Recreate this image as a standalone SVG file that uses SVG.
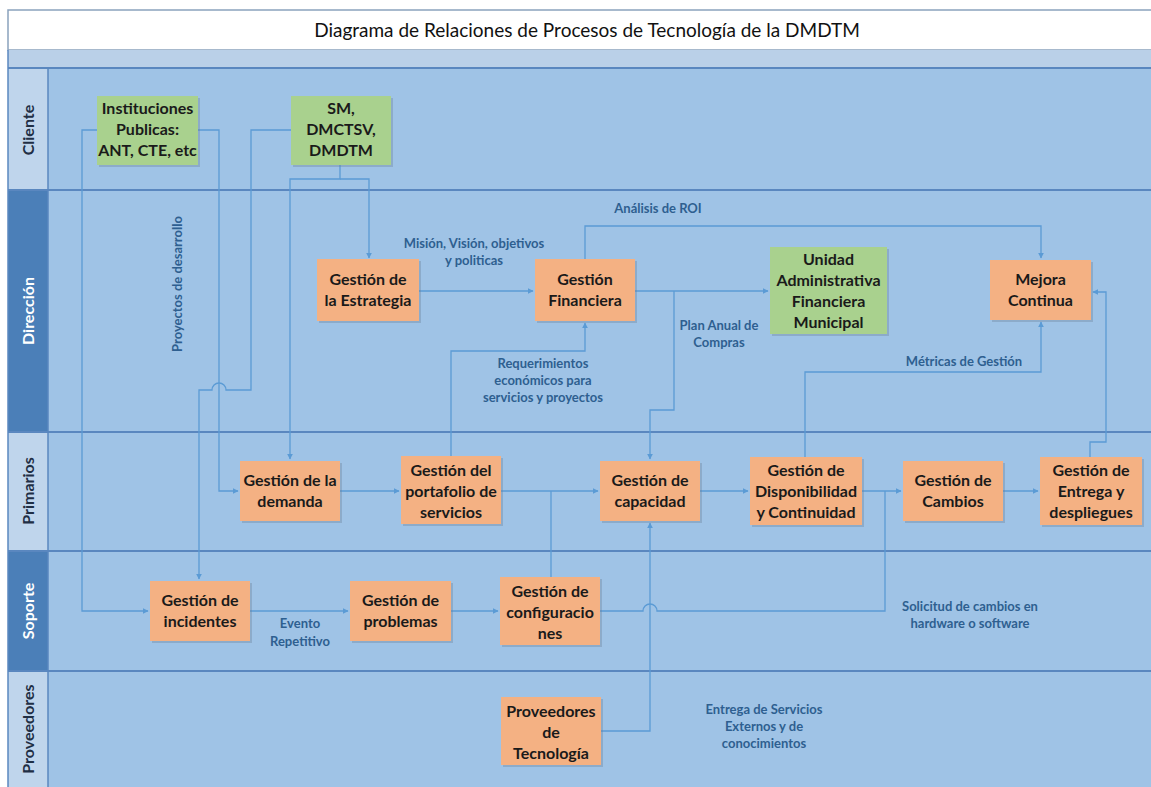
<svg xmlns="http://www.w3.org/2000/svg" width="1151" height="787" viewBox="0 0 1151 787">
  <defs>
    <style>
      .lane{fill:#9fc3e6}
      .sep{stroke:#5a87bf;stroke-width:2}
      .hdl{fill:#bfd5ec}
      .hdd{fill:#4b7fb8}
      .lt{font-family:Lato,"Liberation Sans",sans-serif;font-weight:bold;font-size:16px;text-anchor:middle}
      .box-o{fill:#f4b183}
      .box-g{fill:#a9d18e}
      .shadow{fill:#6b7f96;opacity:0.35}
      .nt{font-family:Lato,"Liberation Sans",sans-serif;font-weight:bold;font-size:16px;fill:#1a1a1a;text-anchor:middle}
      .conn{fill:none;stroke:#5b9bd5;stroke-width:1.3}
      .cl{font-family:Lato,"Liberation Sans",sans-serif;font-weight:bold;font-size:13px;fill:#2e5f90;text-anchor:middle}
    </style>
    <marker id="arr" viewBox="0 0 10 10" refX="9" refY="5" markerWidth="6" markerHeight="6" markerUnits="userSpaceOnUse" orient="auto">
      <path d="M0,0 L10,5 L0,10 z" fill="#5b9bd5"/>
    </marker>
  </defs>

  <!-- background -->
  <rect x="0" y="0" width="1151" height="787" fill="#ffffff"/>

  <!-- title -->
  <rect x="8" y="10" width="1150" height="40" fill="#ffffff" stroke="#8aa2bd" stroke-width="1.5"/>
  <text x="587" y="37" font-family="Lato,'Liberation Sans',sans-serif" font-size="19" text-anchor="middle" fill="#111">Diagrama de Relaciones de Procesos de Tecnología de la DMDTM</text>

  <!-- header band -->
  <rect x="8" y="50" width="1150" height="18" fill="#bad0e8"/>

  <!-- lanes -->
  <g id="lanes">
    <rect class="lane" x="8" y="68" width="1150" height="719"/>
    <rect class="hdl" x="8" y="68" width="40" height="122"/>
    <rect class="hdd" x="8" y="190" width="40" height="242"/>
    <rect class="hdl" x="8" y="432" width="40" height="119"/>
    <rect class="hdd" x="8" y="551" width="40" height="120"/>
    <rect class="hdl" x="8" y="671" width="40" height="116"/>
    <line class="sep" x1="8" y1="68" x2="1151" y2="68"/>
    <line class="sep" x1="8" y1="190" x2="1151" y2="190"/>
    <line class="sep" x1="8" y1="432" x2="1151" y2="432"/>
    <line class="sep" x1="8" y1="551" x2="1151" y2="551"/>
    <line class="sep" x1="8" y1="671" x2="1151" y2="671"/>
    <line x1="48" y1="68" x2="48" y2="787" stroke="#5a87bf" stroke-width="1.5"/>
    <line x1="8" y1="50" x2="8" y2="787" stroke="#5a87bf" stroke-width="1.5"/>
    <text class="lt" fill="#1f2f45" transform="translate(34,130) rotate(-90)">Cliente</text>
    <text class="lt" fill="#ffffff" transform="translate(34,311) rotate(-90)">Dirección</text>
    <text class="lt" fill="#1f2f45" transform="translate(34,491) rotate(-90)">Primarios</text>
    <text class="lt" fill="#ffffff" transform="translate(34,611) rotate(-90)">Soporte</text>
    <text class="lt" fill="#1f2f45" transform="translate(34,729) rotate(-90)">Proveedores</text>
  </g>

  <!-- connectors -->
  <g id="connectors">
    <path class="conn" d="M97,130 L82,130 L82,611 L148,611" marker-end="url(#arr)"/>
    <path class="conn" d="M198,130 L219,130 L219,491 L238,491" marker-end="url(#arr)"/>
    <path class="conn" d="M291,130 L251,130 L251,390 L226,390 A7,7 0 0 0 212,390 L199,390 L199,579" marker-end="url(#arr)"/>
    <path class="conn" d="M340,165 L340,179 L290,179 L290,459" marker-end="url(#arr)"/>
    <path class="conn" d="M340,179 L369,179 L369,258" marker-end="url(#arr)"/>
    <path class="conn" d="M419,291 L533,291" marker-end="url(#arr)"/>
    <path class="conn" d="M635,291 L768,291" marker-end="url(#arr)"/>
    <path class="conn" d="M674,291 L674,410 L650,410 L650,459" marker-end="url(#arr)"/>
    <path class="conn" d="M585,259 L585,226 L1041,226 L1041,258" marker-end="url(#arr)"/>
    <path class="conn" d="M451,456 L451,351 L585,351 L585,323" marker-end="url(#arr)"/>
    <path class="conn" d="M805,457 L805,372 L1041,372 L1041,322" marker-end="url(#arr)"/>
    <path class="conn" d="M1090,457 L1090,442 L1106,442 L1106,292 L1093,292" marker-end="url(#arr)"/>
    <path class="conn" d="M340,491 L399,491" marker-end="url(#arr)"/>
    <path class="conn" d="M501,491 L598,491" marker-end="url(#arr)"/>
    <path class="conn" d="M551,491 L551,577"/>
    <path class="conn" d="M700,491 L748,491" marker-end="url(#arr)"/>
    <path class="conn" d="M862,491 L901,491" marker-end="url(#arr)"/>
    <path class="conn" d="M600,611 L643,611 A7,7 0 0 1 657,611 L885,611 L885,491"/>
    <path class="conn" d="M1003,491 L1038,491" marker-end="url(#arr)"/>
    <path class="conn" d="M250,611 L348,611" marker-end="url(#arr)"/>
    <path class="conn" d="M451,611 L498,611" marker-end="url(#arr)"/>
    <path class="conn" d="M600,731 L650,731 L650,523" marker-end="url(#arr)"/>
  </g>

  <!-- connector labels -->
  <g id="connector-labels">
    <text class="cl" transform="translate(182,284) rotate(-90)">Proyectos de desarrollo</text>
    <text class="cl" x="474" y="248">Misión, Visión, objetivos</text>
    <text class="cl" x="474" y="265">y politicas</text>
    <text class="cl" x="658" y="213">Análisis de ROI</text>
    <text class="cl" x="719" y="330">Plan Anual de</text>
    <text class="cl" x="719" y="347">Compras</text>
    <text class="cl" x="543" y="368">Requerimientos</text>
    <text class="cl" x="543" y="385">económicos para</text>
    <text class="cl" x="543" y="402">servicios y proyectos</text>
    <text class="cl" x="964" y="366">Métricas de Gestión</text>
    <text class="cl" x="300" y="628">Evento</text>
    <text class="cl" x="300" y="646">Repetitivo</text>
    <text class="cl" x="970" y="611">Solicitud de cambios en</text>
    <text class="cl" x="970" y="628">hardware o software</text>
    <text class="cl" x="764" y="714">Entrega de Servicios</text>
    <text class="cl" x="764" y="731">Externos y  de</text>
    <text class="cl" x="764" y="748">conocimientos</text>
  </g>

  <!-- nodes -->
  <g id="instituciones">
    <rect class="shadow" x="99" y="98" width="101" height="69"/>
    <rect class="box-g" x="97" y="96" width="101" height="69"/>
    <text class="nt" x="147.5" y="114">Instituciones</text>
    <text class="nt" x="147.5" y="135">Publicas:</text>
    <text class="nt" x="147.5" y="156">ANT, CTE, etc</text>
  </g>
  <g id="sm">
    <rect class="shadow" x="293" y="98" width="100" height="69"/>
    <rect class="box-g" x="291" y="96" width="100" height="69"/>
    <text class="nt" x="341" y="114">SM,</text>
    <text class="nt" x="341" y="135">DMCTSV,</text>
    <text class="nt" x="341" y="156">DMDTM</text>
  </g>
  <g id="estrategia">
    <rect class="shadow" x="319" y="261" width="102" height="62"/>
    <rect class="box-o" x="317" y="259" width="102" height="62"/>
    <text class="nt" x="368" y="285">Gestión  de</text>
    <text class="nt" x="368" y="306">la Estrategia</text>
  </g>
  <g id="financiera">
    <rect class="shadow" x="537" y="261" width="100" height="62"/>
    <rect class="box-o" x="535" y="259" width="100" height="62"/>
    <text class="nt" x="585" y="285">Gestión</text>
    <text class="nt" x="585" y="306">Financiera</text>
  </g>
  <g id="unidad">
    <rect class="shadow" x="772" y="249" width="117" height="87"/>
    <rect class="box-g" x="770" y="247" width="117" height="87"/>
    <text class="nt" x="828.5" y="265">Unidad</text>
    <text class="nt" x="828.5" y="286">Administrativa</text>
    <text class="nt" x="828.5" y="307">Financiera</text>
    <text class="nt" x="828.5" y="328">Municipal</text>
  </g>
  <g id="mejora">
    <rect class="shadow" x="992" y="262" width="101" height="60"/>
    <rect class="box-o" x="990" y="260" width="101" height="60"/>
    <text class="nt" x="1040.5" y="285">Mejora</text>
    <text class="nt" x="1040.5" y="306">Continua</text>
  </g>
  <g id="demanda">
    <rect class="shadow" x="242" y="463" width="100" height="60"/>
    <rect class="box-o" x="240" y="461" width="100" height="60"/>
    <text class="nt" x="290" y="486">Gestión de la</text>
    <text class="nt" x="290" y="507">demanda</text>
  </g>
  <g id="portafolio">
    <rect class="shadow" x="403" y="458" width="100" height="68"/>
    <rect class="box-o" x="401" y="456" width="100" height="68"/>
    <text class="nt" x="451" y="476">Gestión del</text>
    <text class="nt" x="451" y="497">portafolio de</text>
    <text class="nt" x="451" y="518">servicios</text>
  </g>
  <g id="capacidad">
    <rect class="shadow" x="602" y="463" width="100" height="60"/>
    <rect class="box-o" x="600" y="461" width="100" height="60"/>
    <text class="nt" x="650" y="486">Gestión de</text>
    <text class="nt" x="650" y="507">capacidad</text>
  </g>
  <g id="disponibilidad">
    <rect class="shadow" x="752" y="459" width="112" height="68"/>
    <rect class="box-o" x="750" y="457" width="112" height="68"/>
    <text class="nt" x="806" y="476">Gestión de</text>
    <text class="nt" x="806" y="497">Disponibilidad</text>
    <text class="nt" x="806" y="518">y Continuidad</text>
  </g>
  <g id="cambios">
    <rect class="shadow" x="905" y="463" width="100" height="60"/>
    <rect class="box-o" x="903" y="461" width="100" height="60"/>
    <text class="nt" x="953" y="486">Gestión de</text>
    <text class="nt" x="953" y="507">Cambios</text>
  </g>
  <g id="entrega">
    <rect class="shadow" x="1042" y="459" width="102" height="68"/>
    <rect class="box-o" x="1040" y="457" width="102" height="68"/>
    <text class="nt" x="1091" y="476">Gestión de</text>
    <text class="nt" x="1091" y="497">Entrega y</text>
    <text class="nt" x="1091" y="518">despliegues</text>
  </g>
  <g id="incidentes">
    <rect class="shadow" x="152" y="583" width="100" height="60"/>
    <rect class="box-o" x="150" y="581" width="100" height="60"/>
    <text class="nt" x="200" y="606">Gestión de</text>
    <text class="nt" x="200" y="627">incidentes</text>
  </g>
  <g id="problemas">
    <rect class="shadow" x="352" y="583" width="101" height="60"/>
    <rect class="box-o" x="350" y="581" width="101" height="60"/>
    <text class="nt" x="400.5" y="606">Gestión de</text>
    <text class="nt" x="400.5" y="627">problemas</text>
  </g>
  <g id="configuraciones">
    <rect class="shadow" x="502" y="579" width="100" height="68"/>
    <rect class="box-o" x="500" y="577" width="100" height="68"/>
    <text class="nt" x="550" y="597">Gestión de</text>
    <text class="nt" x="550" y="618">configuracio</text>
    <text class="nt" x="550" y="639">nes</text>
  </g>
  <g id="proveedores">
    <rect class="shadow" x="503" y="699" width="100" height="68"/>
    <rect class="box-o" x="501" y="697" width="100" height="68"/>
    <text class="nt" x="551" y="717">Proveedores</text>
    <text class="nt" x="551" y="738">de</text>
    <text class="nt" x="551" y="759">Tecnología</text>
  </g>
</svg>
